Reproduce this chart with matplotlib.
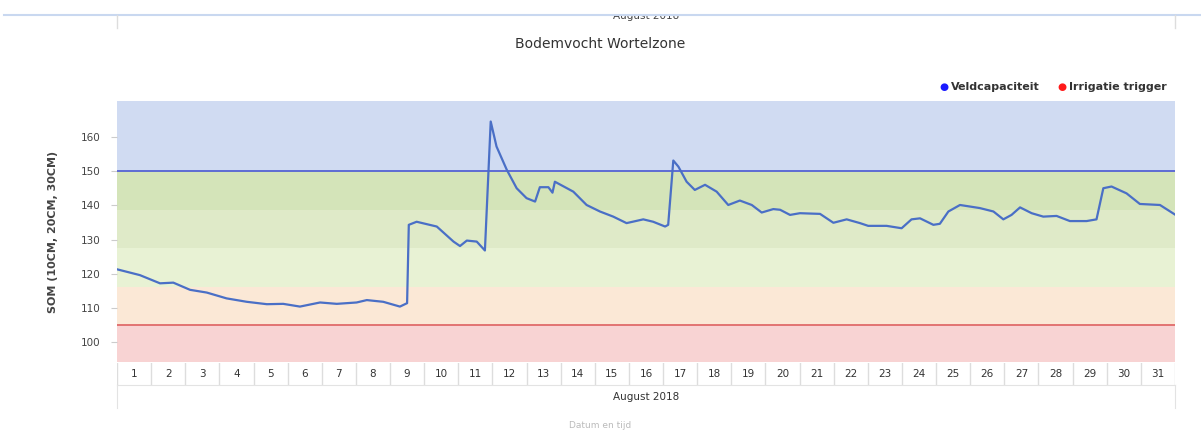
import matplotlib
matplotlib.use("Agg")
import matplotlib.pyplot as plt

# tijd in dagen vanaf 1 augustus 00:00, bodemvocht (SOM)
t_days = [0, 0.67, 1.26, 1.65, 2.14, 2.63, 3.21, 3.80, 4.39, 4.87, 5.36, 5.95,
          6.44, 7.02, 7.32, 7.80, 8.29, 8.50, 8.55, 8.78, 9.37, 9.86, 10.05,
          10.25, 10.54, 10.78, 10.95, 11.12, 11.42, 11.71, 12.0, 12.25, 12.39,
          12.64, 12.76, 12.83, 13.37, 13.76, 14.15, 14.54, 14.93, 15.42, 15.71,
          16.06, 16.15, 16.30, 16.45, 16.69, 16.93, 17.23, 17.57, 17.91, 18.25,
          18.60, 18.89, 19.23, 19.43, 19.72, 20.01, 20.30, 20.60, 20.99, 21.38,
          21.77, 22.01, 22.55, 22.99, 23.28, 23.53, 23.92, 24.11, 24.36, 24.70,
          25.28, 25.68, 25.97, 26.21, 26.46, 26.80, 27.14, 27.53, 27.92, 28.41,
          28.70, 28.90, 29.14, 29.58, 29.97, 30.56, 31.0]
som = [121.3, 119.6, 117.2, 117.4, 115.3, 114.5, 112.8, 111.8, 111.1, 111.2,
       110.4, 111.6, 111.2, 111.6, 112.3, 111.8, 110.4, 111.4, 134.3, 135.2,
       133.8, 129.4, 128.1, 129.7, 129.4, 126.8, 164.5, 157.2, 150.4, 145.0,
       142.1, 141.1, 145.3, 145.3, 143.7, 146.9, 144.0, 140.1, 138.2, 136.7,
       134.8, 135.9, 135.2, 133.8, 134.3, 153.1, 151.3, 146.9, 144.5, 146.0,
       144.0, 140.1, 141.4, 140.1, 137.9, 138.9, 138.7, 137.2, 137.7, 137.6,
       137.5, 134.9, 135.9, 134.8, 134.0, 134.0, 133.3, 135.9, 136.2, 134.3,
       134.6, 138.2, 140.1, 139.2, 138.2, 135.9, 137.2, 139.4, 137.7, 136.7,
       136.9, 135.4, 135.4, 135.9, 145.0, 145.5, 143.5, 140.4, 140.1, 137.3]

veldcapaciteit = 150
irrigatie_trigger = 105
band_edges = [94.2, 105, 116.25, 127.5, 138.75, 150, 170.5]
band_colors = ['#f8d3d3', '#fbe8d6', '#e8f2d4', '#dfeac8', '#d4e4b9', '#d0dbf2']
y_ticks = [100, 110, 120, 130, 140, 150, 160]
days = list(range(1, 32))
month_label = 'August 2018'

W, H = 1201, 433
fig = plt.figure(figsize=(W / 100, H / 100), dpi=100)

def box(x0, y0, x1, y1):
    # pixel box -> figure coords
    return [x0 / W, 1 - y1 / H, (x1 - x0) / W, (y1 - y0) / H]

# bovenkant: restant van vorige grafiek
fig.add_artist(plt.Line2D([4 / W, 1], [1 - 15 / H] * 2, color='#c9d8f0', lw=1.5))
for xp in (117, 1175):
    fig.add_artist(plt.Line2D([xp / W] * 2, [1 - 15 / H, 1 - 28 / H], color='#dddddd', lw=1))
hdr = fig.add_axes(box(117, 16, 1175, 30))
hdr.axis('off')
hdr.text(0.5, 1.0, month_label, ha='center', va='center', fontsize=7.5,
         color='#444444', clip_on=True)

fig.text(0.5, 1 - 44 / H, 'Bodemvocht Wortelzone', ha='center', va='center',
         fontsize=10, color='#333333')

# legenda
fig.text(944 / W, 1 - 87 / H, '\u25CF', color='#1a1aff', fontsize=7.5, ha='center', va='center')
fig.text(951 / W, 1 - 87 / H, 'Veldcapaciteit', color='#333333', fontsize=8,
         fontweight='bold', ha='left', va='center')
fig.text(1062 / W, 1 - 87 / H, '\u25CF', color='#ff1a1a', fontsize=7.5, ha='center', va='center')
fig.text(1069 / W, 1 - 87 / H, 'Irrigatie trigger', color='#333333', fontsize=8,
         fontweight='bold', ha='left', va='center')

ax = fig.add_axes(box(117, 101, 1175, 362))
for lo, hi, c in zip(band_edges[:-1], band_edges[1:], band_colors):
    ax.axhspan(lo, hi, color=c, lw=0, zorder=0)
ax.axhline(veldcapaciteit, color='#5563d4', lw=1.3, zorder=2)
ax.axhline(irrigatie_trigger, color='#e06a6a', lw=1.3, zorder=2)
ax.plot(t_days, som, color='#4a6fc6', lw=1.6, zorder=3)
ax.set_xlim(0, 31)
ax.set_ylim(band_edges[0], band_edges[-1])
ax.set_yticks(y_ticks)
ax.set_xticks([])
ax.tick_params(axis='y', length=4, color='#cccccc', labelsize=7.5,
               labelcolor='#444444', pad=8)
for s in ax.spines.values():
    s.set_visible(False)
ax.set_ylabel('SOM (10CM, 20CM, 30CM)', fontsize=8, fontweight='bold',
              color='#444444', labelpad=16)

# dagcellen
dax = fig.add_axes(box(117, 363, 1175, 385))
dax.set_xlim(0, 31)
dax.set_ylim(0, 1)
dax.axis('off')
for d in days:
    dax.axvline(d - 1, color='#dddddd', lw=1)
    dax.text(d - 0.5, 0.5, str(d), ha='center', va='center', fontsize=7.5, color='#333333')
dax.axvline(31, color='#dddddd', lw=1)

# maandrij
mrow = fig.add_axes(box(117, 385, 1175, 408))
mrow.set_xticks([])
mrow.set_yticks([])
for k, s in mrow.spines.items():
    s.set_visible(k in ('left', 'right', 'top'))
    s.set_color('#e3e3e3')
mrow.text(0.5, 0.5, month_label, ha='center', va='center', fontsize=7.5,
          color='#333333', transform=mrow.transAxes)

fig.text(0.5, 1 - 426 / H, 'Datum en tijd', ha='center', va='center',
         fontsize=6.5, color='#bbbbbb')

fig.savefig('out.png', dpi=100)
